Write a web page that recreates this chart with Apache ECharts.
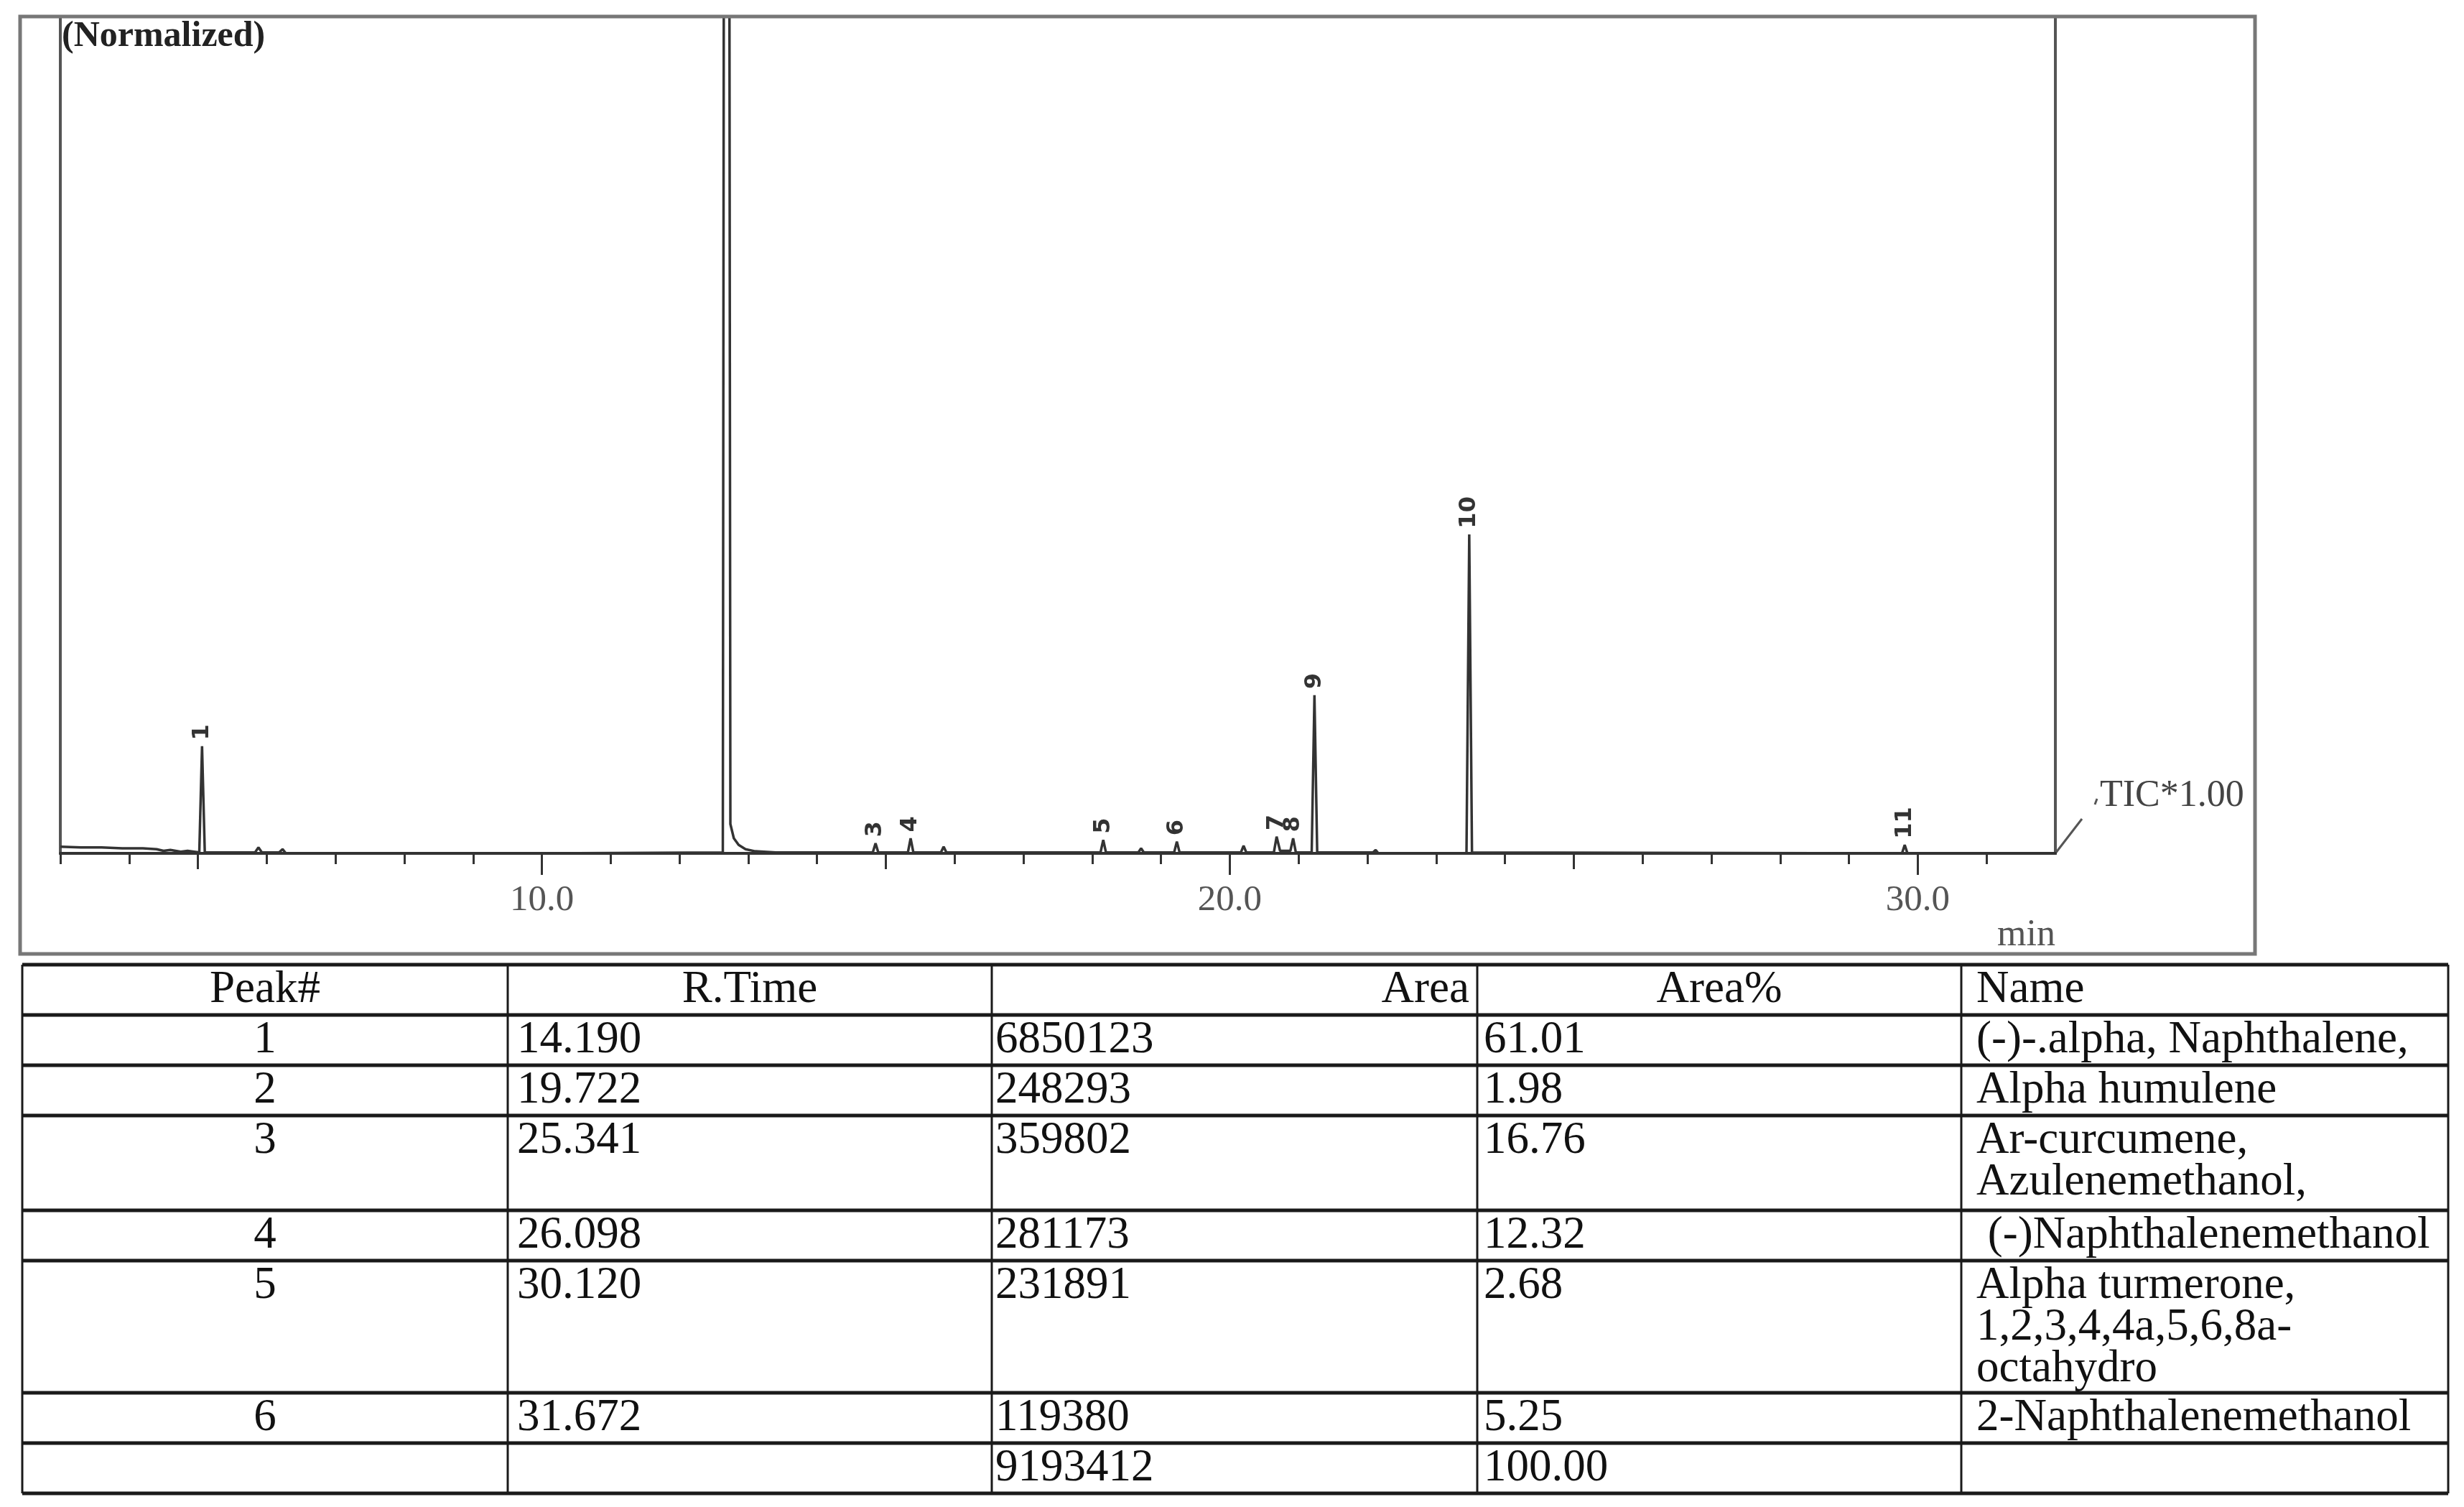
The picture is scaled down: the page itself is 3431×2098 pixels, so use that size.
<!DOCTYPE html>
<html>
<head>
    <title>TIC chromatogram</title>
    <meta charset="UTF-8">
    <script type="text/javascript" src="https://cdn.jsdelivr.net/npm/echarts@6/dist/echarts.min.js"></script>
    <style type="text/css">
        html, body {
            margin: 0;
            padding: 0;
            background: #fff;
        }

        #tic_chart {
            width: 3431px;
            height: 2098px;
        }
    </style>
</head>
<body>
<div id="tic_chart"></div>

<script type="text/javascript">
    // chromatogram trace: retention time (min) / normalized intensity (%)
    var traceTime = [3.00, 3.30, 3.60, 3.90, 4.20, 4.40, 4.50, 4.60, 4.75, 4.85, 5.02, 5.06, 5.10,
        5.83, 5.88, 5.93, 6.18, 6.23, 6.28, 8.00, 10.00,
        12.63, 12.685, 12.74, 12.79, 12.86, 12.96, 13.10, 13.40,
        14.81, 14.85, 14.89, 15.32, 15.36, 15.40, 15.80, 15.84, 15.88,
        18.12, 18.16, 18.20, 18.67, 18.71, 18.75, 19.19, 19.23, 19.27,
        20.16, 20.20, 20.24, 20.64, 20.68, 20.73, 20.88, 20.92, 20.96,
        21.19, 21.23, 21.27, 22.08, 22.12, 22.16, 23.44, 23.48, 23.52,
        29.77, 29.81, 29.85, 31.40, 32.00];
    var traceInt = [0.8, 0.7, 0.7, 0.6, 0.6, 0.5, 0.3, 0.4, 0.2, 0.3, 0.1, 12.8, 0.1,
        0.1, 0.7, 0.1, 0.1, 0.5, 0.0, 0.0, 0.0,
        0.1, 400, 3.5, 1.8, 1.0, 0.5, 0.25, 0.1,
        0.1, 1.2, 0.1, 0.1, 1.8, 0.1, 0.1, 0.8, 0.1,
        0.1, 1.6, 0.1, 0.1, 0.6, 0.1, 0.1, 1.4, 0.1,
        0.1, 0.9, 0.1, 0.1, 2.0, 0.3, 0.3, 1.8, 0.1,
        0.1, 18.9, 0.1, 0.1, 0.4, 0.0, 0.0, 38.1, 0.1,
        0.0, 1.0, 0.0, 0.0, 0.0];

    // peak labels
    var peakNo = ['1', '2', '3', '4', '5', '6', '7', '8', '9', '10', '11'];
    var peakTime = [5.06, 12.685, 14.85, 15.36, 18.16, 19.23, 20.68, 20.92, 21.23, 23.48, 29.81];
    var peakTop = [12.8, 400, 1.2, 1.8, 1.6, 1.4, 2.0, 1.8, 18.9, 38.1, 1.0];

    // x axis ticks (min)
    var majorTicks = [10, 20, 30];
    var midTicks = [5, 15, 25];
    var minorTicks = [3, 4, 6, 7, 8, 9, 11, 12, 13, 14, 16, 17, 18, 19, 21, 22, 23, 24, 26, 27, 28, 29, 31];

    // peak table
    var tableHead = ['Peak#', 'R.Time', 'Area', 'Area%', 'Name'];
    var peakNum = ['1', '2', '3', '4', '5', '6'];
    var rTime = ['14.190', '19.722', '25.341', '26.098', '30.120', '31.672'];
    var area = ['6850123', '248293', '359802', '281173', '231891', '119380'];
    var areaPct = ['61.01', '1.98', '16.76', '12.32', '2.68', '5.25'];
    var compound = ['(-)-.alpha, Naphthalene,', 'Alpha humulene', 'Ar-curcumene,\nAzulenemethanol,',
        ' (-)Naphthalenemethanol', 'Alpha turmerone,\n1,2,3,4,4a,5,6,8a-\noctahydro', '2-Naphthalenemethanol'];
    var totalArea = '9193412';
    var totalPct = '100.00';

    var serif = '"Liberation Serif", "Times New Roman", serif';
    var myChart = echarts.init(document.getElementById('tic_chart'));

    // table layout
    var colEdges = [31, 707, 1381, 2057, 2731, 3409];
    var rowEdges = [1343, 1413, 1483, 1553, 1685, 1755, 1939, 2009, 2079];
    var headAlign = ['center', 'center', 'right', 'center', 'left'];
    var bodyAlign = ['center', 'left', 'left', 'left', 'left'];
    var padLeft = [0, 13, 5, 9, 21];

    var rows = [tableHead];
    for (var i = 0; i < peakNum.length; i++) {
        rows.push([peakNum[i], rTime[i], area[i], areaPct[i], compound[i]]);
    }
    rows.push(['', '', totalArea, totalPct, '']);

    var graphics = [];
    // frame around the chromatogram
    graphics.push({
        type: 'rect', silent: true, z: 10,
        shape: {x: 28, y: 23, width: 3112, height: 1305},
        style: {fill: 'none', stroke: '#777', lineWidth: 5}
    });
    rowEdges.forEach(function (y) {
        graphics.push({
            type: 'line', silent: true,
            shape: {x1: colEdges[0], y1: y, x2: colEdges[5], y2: y},
            style: {stroke: '#1a1a1a', lineWidth: 5}
        });
    });
    colEdges.forEach(function (x) {
        graphics.push({
            type: 'line', silent: true,
            shape: {x1: x, y1: rowEdges[0], x2: x, y2: rowEdges[rowEdges.length - 1]},
            style: {stroke: '#1a1a1a', lineWidth: 3}
        });
    });
    rows.forEach(function (row, r) {
        row.forEach(function (txt, c) {
            if (!txt) return;
            var al = r === 0 ? headAlign[c] : bodyAlign[c];
            var x;
            if (al === 'center') x = (colEdges[c] + colEdges[c + 1]) / 2;
            else if (al === 'right') x = colEdges[c + 1] - 11;
            else x = colEdges[c] + padLeft[c];
            graphics.push({
                type: 'text', silent: true,
                x: x, y: rowEdges[r] + 6,
                style: {
                    text: txt, fontSize: 63, fontFamily: serif, fill: '#111',
                    align: al, verticalAlign: 'top', lineHeight: 58
                }
            });
        });
    });

    var tickStyle = {color: '#333', width: 3};

    myChart.setOption({
        animation: false,
        backgroundColor: '#fff',
        title: {
            text: '(Normalized)',
            left: 86,
            top: 26,
            padding: 0,
            textStyle: {fontSize: 50, fontWeight: 'bold', fontFamily: serif, color: '#222'}
        },
        grid: {
            left: 84, top: 23, right: 569, bottom: 910,
            show: true, borderColor: '#555', borderWidth: 4
        },
        xAxis: [{
            type: 'value', min: 3, max: 32, position: 'bottom',
            axisLine: {show: true, lineStyle: {color: '#333', width: 4}},
            axisTick: {show: true, customValues: majorTicks, length: 30, lineStyle: tickStyle},
            axisLabel: {
                customValues: majorTicks, margin: 40,
                formatter: function (v) { return v.toFixed(1); },
                fontSize: 51, fontFamily: serif, color: '#555'
            },
            splitLine: {show: false},
            name: 'min', nameLocation: 'end', nameGap: 0,
            nameTextStyle: {
                fontSize: 52, fontFamily: serif, color: '#555',
                align: 'right', verticalAlign: 'top', padding: [88, 0, 0, 0]
            }
        }, {
            type: 'value', min: 3, max: 32, position: 'bottom',
            axisLine: {show: false},
            axisTick: {show: true, customValues: midTicks, length: 22, lineStyle: tickStyle},
            axisLabel: {show: false},
            splitLine: {show: false}
        }, {
            type: 'value', min: 3, max: 32, position: 'bottom',
            axisLine: {show: false},
            axisTick: {show: true, customValues: minorTicks, length: 15, lineStyle: tickStyle},
            axisLabel: {show: false},
            splitLine: {show: false}
        }],
        yAxis: {type: 'value', min: 0, max: 100, show: false},
        series: [{
            name: 'TIC',
            type: 'line',
            xAxisIndex: 0,
            showSymbol: false,
            clip: true,
            lineStyle: {color: '#333', width: 3.5},
            data: traceTime.map(function (t, i) { return [t, traceInt[i]]; }),
            z: 3
        }, {
            name: 'peaks',
            type: 'scatter',
            xAxisIndex: 0,
            clip: true,
            symbolSize: 1,
            itemStyle: {color: 'rgba(0,0,0,0)'},
            data: peakTime.map(function (t, i) { return [t, peakTop[i], peakNo[i]]; }),
            label: {
                show: true, position: 'top', distance: 8, rotate: 90,
                align: 'left', verticalAlign: 'middle',
                formatter: function (p) { return p.value[2]; },
                fontSize: 32, fontWeight: 'bold', fontFamily: '"DejaVu Sans", sans-serif', color: '#000'
            }
        }],
        graphic: graphics
    });

    // leader line from the trace end to the TIC label
    var endPt = myChart.convertToPixel({xAxisIndex: 0, yAxisIndex: 0}, [traceTime[traceTime.length - 1], 0]);
    graphics.push({
        type: 'polyline', silent: true,
        shape: {points: [endPt, [endPt[0] + 37, endPt[1] - 48]]},
        style: {stroke: '#555', lineWidth: 3, fill: 'none'}
    });
    graphics.push({
        type: 'line', silent: true,
        shape: {x1: endPt[0] + 55, y1: endPt[1] - 68, x2: endPt[0] + 58, y2: endPt[1] - 76},
        style: {stroke: '#555', lineWidth: 3}
    });
    graphics.push({
        type: 'text', silent: true,
        x: endPt[0] + 62, y: endPt[1] - 80,
        style: {text: 'TIC*1.00', fontSize: 52, fontFamily: serif, fill: '#444', align: 'left', verticalAlign: 'middle'}
    });
    myChart.setOption({graphic: graphics}, {replaceMerge: ['graphic']});
</script>
</body>
</html>
